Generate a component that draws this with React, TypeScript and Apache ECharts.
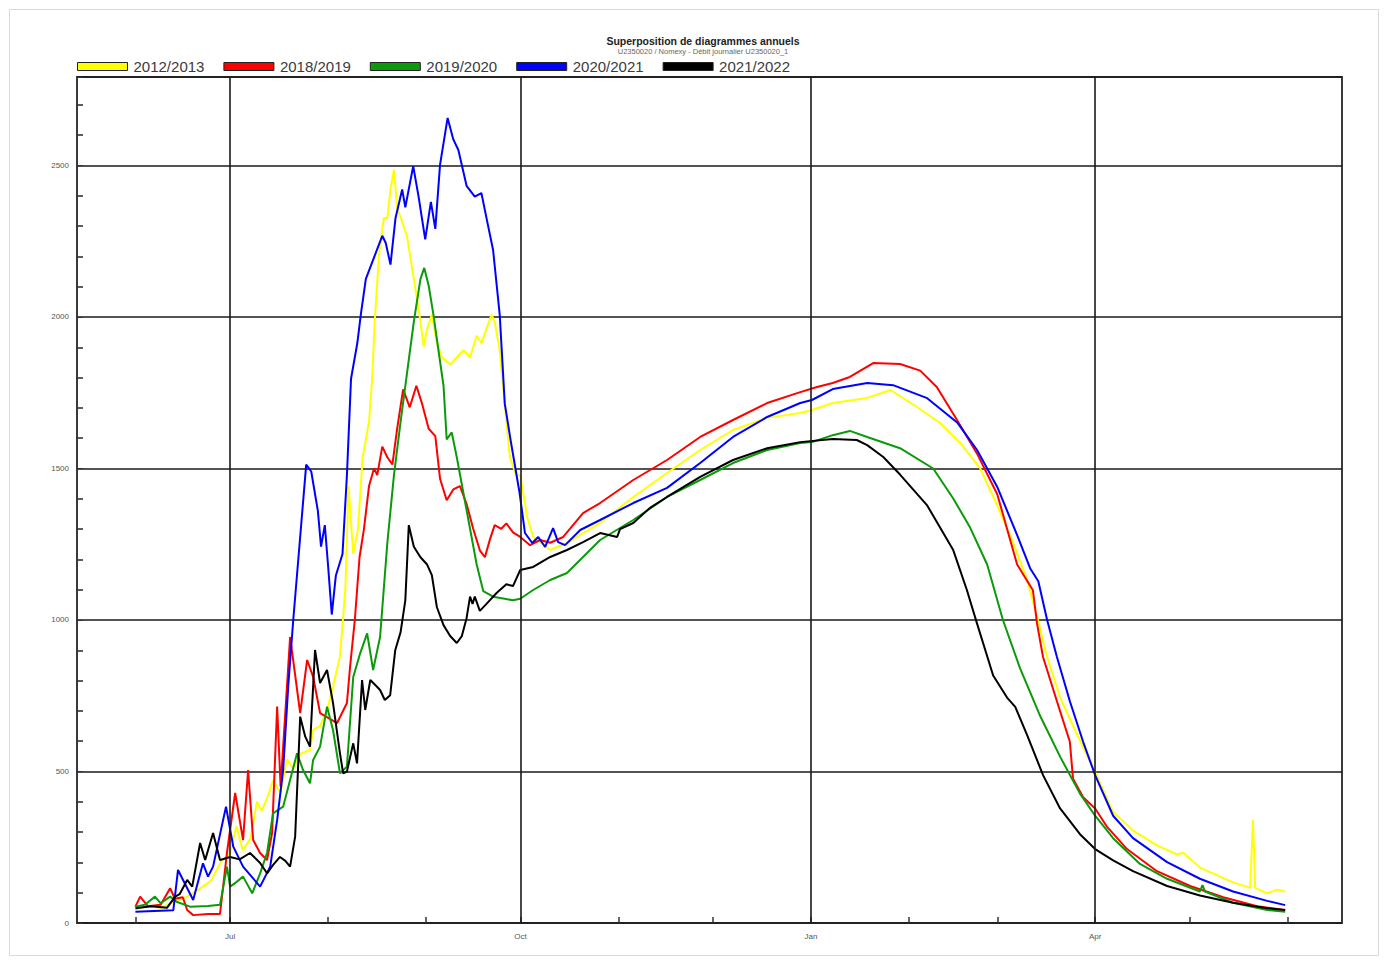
import React, { useEffect, useRef } from "react";
import * as echarts from "echarts";

// x = days since 1 June, y = flow value
const seriesNames = ["2012/2013", "2018/2019", "2019/2020", "2020/2021", "2021/2022"];
const seriesColors = ["#ffff00", "#ff0000", "#0a9a0a", "#0000ff", "#000000"];

const data2012: number[][] = [
  [0, 45], [4, 55], [8, 50], [12, 70], [16, 85], [20, 110], [24, 140], [27, 200], [30, 230], [32, 320],
  [34, 240], [36.5, 280], [38.5, 400], [40, 370], [42, 420], [43.6, 470], [46, 430], [48, 540], [50, 510],
  [52.5, 560], [55.3, 571], [56.3, 637], [58.5, 650], [60.7, 703], [62.6, 779], [64.8, 880], [66.5, 1100],
  [67.5, 1442], [69, 1218], [70.5, 1300], [72, 1537], [74, 1655], [75, 1796], [75.8, 1985], [77.2, 2209],
  [78.7, 2327], [79.8, 2327], [80.8, 2421], [81.9, 2486], [82.9, 2362], [86, 2268], [88.2, 2126], [90.3, 1985],
  [91.3, 1902], [92.4, 1961], [93.9, 2008], [95.5, 1914], [97.1, 1867], [99.7, 1843], [101.8, 1867], [103.9, 1890],
  [106, 1867], [108.1, 1938], [109.6, 1914], [111.2, 1961], [112.8, 2008], [113.8, 1985], [115.4, 1890], [117, 1714],
  [118.6, 1537], [120.6, 1478], [121.9, 1478], [124.1, 1340], [126, 1274], [131.4, 1231], [136.7, 1254], [141.8, 1287],
  [147.2, 1320], [157.7, 1406], [168.4, 1485], [178.9, 1561], [189.3, 1627], [200.1, 1667], [210.6, 1683], [214.3, 1693],
  [220.9, 1716], [231.8, 1733], [239.1, 1759], [247.6, 1703], [254.9, 1650], [261.2, 1585], [267.6, 1500], [273, 1378],
  [278, 1256], [282.4, 1134], [285.6, 1012], [288.8, 878], [292.9, 744], [298.3, 622], [303.4, 512], [309.7, 366],
  [316, 305], [323.6, 256], [329.9, 226], [331.9, 232], [337.2, 183], [347.7, 134], [353.1, 116], [354, 341],
  [354.7, 116], [358.5, 98], [361.7, 110], [364.2, 104],
];

const data2018: number[][] = [
  [0, 54], [1.5, 87], [4, 55], [8, 60], [11, 115], [12.5, 80], [15, 85], [16.4, 43], [18.3, 26], [23, 30],
  [26.8, 30], [29, 231], [31.6, 429], [34.1, 274], [35.7, 505], [37.3, 274], [39.5, 231], [41.7, 208], [43.3, 297],
  [44.9, 714], [46, 450], [49, 944], [52.2, 693], [54.4, 868], [56.3, 812], [58.5, 693], [63.9, 660], [67, 726],
  [68, 845], [69.5, 1000], [71, 1207], [72.4, 1301], [74, 1442], [75.6, 1501], [76.6, 1478], [78.2, 1572],
  [79.8, 1537], [81.4, 1513], [82.9, 1631], [84.8, 1761], [86.9, 1702], [89, 1773], [90.8, 1714], [92.9, 1631],
  [95, 1607], [96.5, 1466], [98.6, 1395], [100.7, 1431], [102.8, 1442], [104.9, 1383], [107, 1301], [109.1, 1230],
  [110.7, 1207], [112.3, 1266], [113.8, 1313], [115.9, 1301], [117.5, 1319], [119.6, 1289], [121.9, 1274], [125, 1247],
  [128.2, 1264], [131.4, 1255], [135.5, 1274], [141.8, 1353], [147.2, 1386], [157.7, 1462], [168.4, 1528], [178.9, 1604],
  [189.3, 1660], [200.1, 1716], [210.6, 1752], [215.9, 1769], [220.9, 1782], [226.3, 1802], [233.7, 1848], [242.2, 1845],
  [248.6, 1823], [253.9, 1768], [260.3, 1659], [266.6, 1549], [273, 1415], [279.3, 1183], [284.3, 1098], [285.6, 988],
  [287.5, 878], [291.9, 732], [296, 598], [297, 476], [300.2, 415], [304, 378], [307.8, 317], [314.1, 244],
  [323.6, 171], [334.1, 122], [344.6, 85], [355.3, 55], [364.2, 43],
];

const data2019: number[][] = [
  [0, 54], [3, 60], [6.2, 87], [8, 65], [11, 87], [13, 70], [17.3, 54], [23, 56], [26.8, 60], [29, 186],
  [30, 120], [32, 135], [34.1, 153], [37, 98], [39.5, 164], [41.7, 231], [43.6, 362], [46.8, 384], [49, 472],
  [51.2, 560], [53.1, 505], [55.3, 461], [56.3, 538], [58.5, 582], [60.7, 714], [62.6, 637], [64.8, 494], [67, 516],
  [69, 812], [71.2, 890], [73.4, 956], [75.3, 835], [77.5, 944], [79.8, 1254], [81.9, 1478], [84, 1655], [86.1, 1820],
  [88.2, 1985], [90.3, 2126], [91.5, 2162], [92.9, 2103], [94.4, 2008], [96, 1890], [97.6, 1773], [98.6, 1596],
  [100.2, 1619], [101.8, 1537], [103.9, 1419], [106, 1301], [108.1, 1183], [110.2, 1095], [113.3, 1077], [116.5, 1071],
  [119.6, 1065], [121.9, 1070], [126, 1099], [131.4, 1132], [136.7, 1155], [141.8, 1208], [147.2, 1264], [157.7, 1330],
  [168.4, 1406], [178.9, 1462], [189.3, 1518], [200.1, 1561], [210.6, 1584], [214.3, 1587], [220.9, 1610], [226.3, 1624],
  [231.8, 1604], [242.2, 1567], [252.7, 1500], [259, 1402], [264.4, 1305], [269.8, 1183], [274.8, 1000], [280.2, 841],
  [286.6, 683], [292.9, 549], [299.2, 427], [304, 354], [309.7, 280], [318.2, 195], [326.8, 146], [337.2, 104],
  [338, 125], [338.8, 104], [347.7, 67], [358.5, 43], [364.2, 37],
];

const data2020: number[][] = [
  [0, 37], [12, 42], [13.5, 175], [18.3, 76], [21.4, 197], [23, 153], [24.6, 186], [28.7, 384], [31, 252],
  [34.1, 186], [39.5, 120], [42.7, 186], [44.9, 340], [46.8, 505], [48.4, 780], [50, 1000], [54.1, 1513], [55.7, 1490],
  [57.8, 1360], [58.8, 1242], [60, 1313], [61, 1183], [62.2, 1018], [63.5, 1147], [65.6, 1218], [67, 1478], [68.3, 1796],
  [70.3, 1914], [71.4, 2008], [73, 2126], [75.6, 2197], [78.2, 2268], [79.3, 2244], [80.8, 2173], [82.4, 2327],
  [84.5, 2421], [85.5, 2362], [88, 2498], [89.7, 2397], [91.8, 2256], [93.6, 2380], [95, 2291], [96.5, 2503],
  [98.9, 2657], [100.7, 2586], [102.3, 2551], [104.9, 2433], [107.5, 2397], [109.6, 2409], [111.2, 2327], [113.3, 2221],
  [115.4, 2008], [117, 1714], [119, 1584], [121.7, 1419], [123.4, 1287], [125.7, 1254], [127.6, 1274], [129.8, 1241],
  [132.3, 1303], [133.9, 1257], [136.1, 1247], [140.9, 1297], [147.2, 1330], [157.7, 1386], [168.4, 1436], [178.9, 1518],
  [189.3, 1604], [200.1, 1670], [210.6, 1716], [214.3, 1726], [220.9, 1762], [231.8, 1782], [240, 1775], [250.8, 1732],
  [260.3, 1652], [266.6, 1561], [273, 1439], [279.3, 1280], [283.4, 1171], [286, 1128], [288.8, 1000], [291.9, 878],
  [296, 732], [300.2, 598], [304, 488], [309.7, 354], [316, 280], [326.8, 201], [337.2, 146], [347.7, 104],
  [358.5, 73], [364.2, 59],
];

const data2021: number[][] = [
  [0, 49], [5, 55], [10, 50], [12.6, 87], [14, 95], [16.4, 142], [18, 120], [20.5, 264], [22.1, 208], [24.6, 297],
  [26.8, 208], [30, 218], [33, 210], [36.3, 231], [39.5, 198], [41.7, 164], [43.5, 190], [45.8, 218], [47.5, 205],
  [49, 186], [50.6, 285], [52.2, 681], [53.8, 615], [55.3, 582], [56.9, 901], [58.5, 792], [60.7, 835], [62.6, 726],
  [64.8, 560], [65.8, 494], [67, 500], [69, 593], [70.2, 527], [71.8, 802], [72.8, 703], [74.4, 802], [76.6, 779],
  [77.5, 769], [79, 736], [80.7, 752], [82.3, 900], [84, 960], [85.5, 1065], [86.6, 1313], [88.2, 1242], [90.3, 1207],
  [92.4, 1183], [93.9, 1148], [95.5, 1042], [97.6, 983], [99.7, 947], [101.8, 924], [103.4, 947], [104.9, 1006],
  [106, 1077], [106.8, 1053], [107.5, 1077], [109.1, 1030], [111.2, 1053], [114.4, 1089], [117.5, 1118], [119.6, 1112],
  [121.9, 1165], [126, 1175], [131.4, 1208], [136.7, 1231], [141.8, 1257], [147.2, 1287], [152.6, 1274], [153.5, 1300],
  [157.7, 1320], [163, 1370], [168.4, 1406], [178.9, 1472], [189.3, 1528], [200.1, 1567], [210.6, 1587], [220.9, 1597],
  [228.5, 1594], [231.8, 1577], [236.9, 1538], [242.2, 1480], [250.8, 1378], [259, 1232], [263.4, 1098], [266.6, 988],
  [271.7, 817], [276.1, 744], [278.7, 713], [282.4, 622], [287.5, 488], [292.9, 378], [299.2, 293], [304, 244],
  [309.7, 207], [316, 171], [326.8, 122], [337.2, 91], [347.7, 67], [358.5, 49], [364.2, 43],
];

const seriesData = [data2012, data2018, data2019, data2020, data2021];

// axis ticks: first day of each month (days since 1 June); labelled quarters
const monthStartDays = [0, 30, 61, 92, 122, 153, 183, 214, 245, 273, 304, 334, 365];
const quarterDays = [30, 122, 214, 304];
const quarterLabels = ["Jul", "Oct", "Jan", "Apr"];

const titleText = "Superposition de diagrammes annuels";
const subtitleText = "U2350020 / Nomexy - Débit journalier U2350020_1";

const FONT = "'Liberation Sans', Arial, sans-serif";

export default function App() {
  const ref = useRef<HTMLDivElement>(null);
  useEffect(() => {
    if (!ref.current) return;
    const chart = echarts.init(ref.current, undefined, { renderer: "svg" });
    const option: any = {
      animation: false,
      backgroundColor: "#ffffff",
      textStyle: { fontFamily: FONT },
      graphic: [
        {
          type: "rect",
          shape: { x: 9.5, y: 9.5, width: 1369, height: 946 },
          style: { fill: "none", stroke: "#d9d9d9", lineWidth: 1 },
          silent: true,
        },
        {
          type: "text",
          x: 703,
          y: 35,
          style: { text: titleText, font: `bold 10.5px ${FONT}`, fill: "#222", textAlign: "center" },
        },
        {
          type: "text",
          x: 703,
          y: 47,
          style: { text: subtitleText, font: `7.5px ${FONT}`, fill: "#666", textAlign: "center" },
        },
      ],
      legend: {
        data: seriesNames,
        left: 77,
        top: 59,
        padding: 0,
        icon: "rect",
        itemWidth: 50,
        itemHeight: 8,
        itemGap: 19,
        itemStyle: { borderColor: "#222", borderWidth: 1 },
        textStyle: { fontSize: 15, color: "#3a3a3a", fontFamily: FONT, padding: [0, 0, 0, 1] },
        selectedMode: false,
      },
      grid: {
        left: 77,
        top: 77,
        width: 1265,
        height: 846,
        show: true,
        borderColor: "#3a3a3a",
        borderWidth: 2,
        backgroundColor: "transparent",
      },
      xAxis: {
        type: "value",
        min: -18.5,
        max: 382.2,
        axisLine: { show: false, onZero: false },
        splitLine: { show: false },
        axisTick: {
          show: true,
          inside: true,
          length: 6,
          customValues: monthStartDays,
          lineStyle: { color: "#333", width: 1.5 },
        },
        axisLabel: {
          show: true,
          customValues: quarterDays,
          formatter: (v: number) => {
            const i = quarterDays.indexOf(Math.round(v));
            return i >= 0 ? quarterLabels[i] : "";
          },
          fontSize: 8,
          color: "#555",
          margin: 9,
          fontFamily: FONT,
        },
      },
      yAxis: {
        type: "value",
        min: 0,
        max: 2792,
        interval: 500,
        axisLine: { show: false, onZero: false },
        axisTick: { show: true, inside: true, length: 6, lineStyle: { color: "#333" } },
        minorTick: { show: true, splitNumber: 5, length: 6, lineStyle: { color: "#333", width: 1.6 } },
        minorSplitLine: { show: false },
        splitLine: { show: true, lineStyle: { color: "#1a1a1a", width: 1.6 } },
        axisLabel: {
          fontSize: 8,
          color: "#555",
          margin: 8,
          fontFamily: FONT,
          formatter: (v: number) => (v % 500 === 0 ? String(v) : ""),
        },
      },
      series: [
        {
          type: "line",
          name: "",
          data: [],
          z: 1,
          silent: true,
          markLine: {
            silent: true,
            symbol: ["none", "none"],
            label: { show: false },
            lineStyle: { color: "#1a1a1a", width: 1.6, type: "solid" },
            data: quarterDays.map((d) => ({ xAxis: d })),
          },
        },
        ...seriesNames.map((name, i) => ({
          type: "line",
          name,
          data: seriesData[i],
          showSymbol: false,
          symbol: "none",
          z: 3,
          lineStyle: { color: seriesColors[i], width: 2 },
          itemStyle: { color: seriesColors[i] },
          emphasis: { disabled: true },
        })),
      ],
    };
    chart.setOption(option);
    return () => chart.dispose();
  }, []);
  return (
    <div
      ref={ref}
      style={{ position: "fixed", left: 0, top: 0, width: 1388, height: 968, background: "#fff" }}
    />
  );
}
